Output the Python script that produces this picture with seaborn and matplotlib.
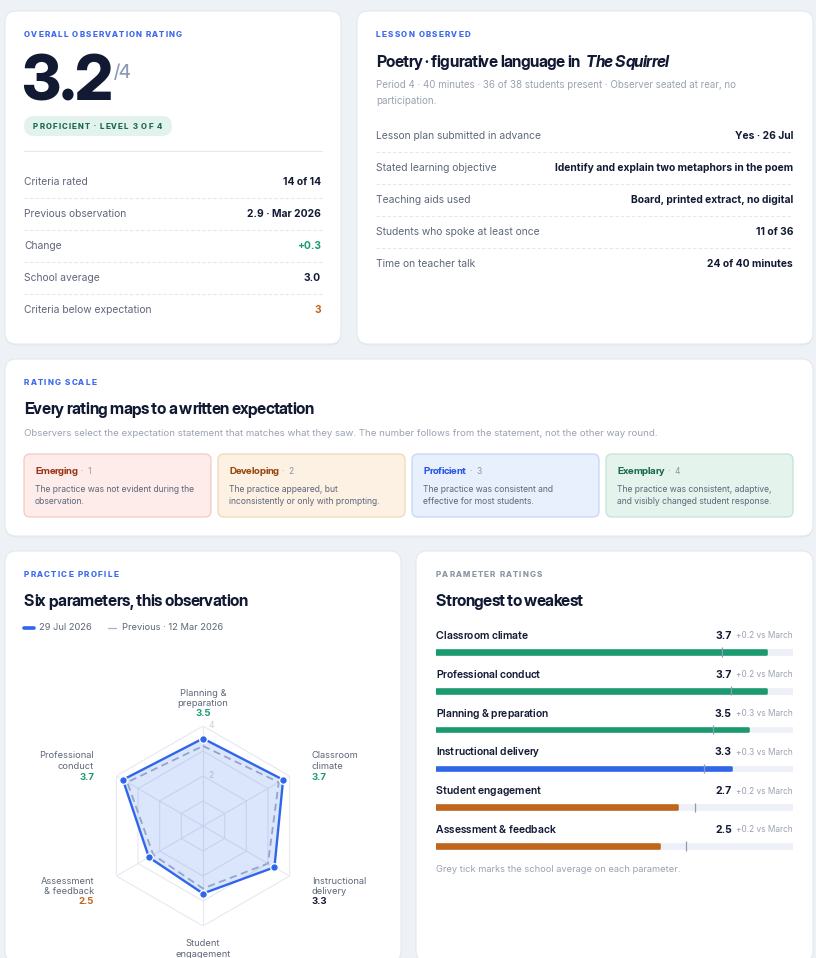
import matplotlib
matplotlib.use('Agg')
import matplotlib.pyplot as plt
from matplotlib.patches import FancyBboxPatch
from matplotlib.font_manager import FontProperties
import numpy as np
import pandas as pd
import seaborn as sns

# ---------------- data ----------------
overall_rating = "3.2"
overall_max = "/4"
overall_level = "PROFICIENT · LEVEL 3 OF 4"
summary_labels = ["Criteria rated", "Previous observation", "Change",
                  "School average", "Criteria below expectation"]
summary_values = ["14 of 14", "2.9 · Mar 2026", "+0.3", "3.0", "3"]
summary_kinds = ["plain", "plain", "good", "plain", "warn"]

lesson_title = "Poetry · figurative language in"
lesson_work = "The Squirrel"
lesson_sub = ["Period 4 · 40 minutes · 36 of 38 students present · Observer seated at rear, no",
              "participation."]
lesson_labels = ["Lesson plan submitted in advance", "Stated learning objective",
                 "Teaching aids used", "Students who spoke at least once", "Time on teacher talk"]
lesson_values = ["Yes · 26 Jul", "Identify and explain two metaphors in the poem",
                 "Board, printed extract, no digital", "11 of 36", "24 of 40 minutes"]

scale_names = ["Emerging", "Developing", "Proficient", "Exemplary"]
scale_levels = [1, 2, 3, 4]
scale_desc = [["The practice was not evident during the", "observation."],
              ["The practice appeared, but", "inconsistently or only with prompting."],
              ["The practice was consistent and", "effective for most students."],
              ["The practice was consistent, adaptive,", "and visibly changed student response."]]

radar_params = ["Planning &\npreparation", "Classroom\nclimate", "Instructional\ndelivery",
                "Student\nengagement", "Assessment\n& feedback", "Professional\nconduct"]
radar_current = [3.5, 3.7, 3.3, 2.7, 2.5, 3.7]
radar_previous = [3.2, 3.5, 3.0, 2.5, 2.3, 3.5]
radar_rings = [1, 2, 3, 4]
legend_current = "29 Jul 2026"
legend_previous = "Previous · 12 Mar 2026"

bar_params = ["Classroom climate", "Professional conduct", "Planning & preparation",
              "Instructional delivery", "Student engagement", "Assessment & feedback"]
bar_values = [3.7, 3.7, 3.5, 3.3, 2.7, 2.5]
bar_deltas = ["+0.2", "+0.2", "+0.3", "+0.3", "+0.2", "+0.2"]
school_avg = [3.2, 3.3, 3.1, 3.0, 2.9, 2.8]
scale_max = 4

# ---------------- style ----------------
BG = "#eef1f6"
NAVY = "#121a33"
GREY = "#5e6779"
LGREY = "#9aa2b1"
BLUE = "#2f66ea"
OVER = "#3d6aec"
GREEN = "#1b9a6f"
ORANGE = "#c0651c"
LINE = "#e3e7ee"

sns.set_theme(style="white")
plt.rcParams['font.family'] = ['Inter', 'DejaVu Sans']

W, H = 816, 958
fig = plt.figure(figsize=(W / 100, H / 100), dpi=100)
fig.patch.set_facecolor(BG)
bg = fig.add_axes([0, 0, 1, 1])
bg.set_xlim(0, W)
bg.set_ylim(H, 0)
bg.axis('off')
bg.set_zorder(0)
renderer = fig.canvas.get_renderer()


def fp(px, weight='normal', style='normal', family='Inter'):
    return FontProperties(family=[family, 'DejaVu Sans'], size=px * 0.72,
                          weight=weight, style=style)


def tw(s, prop):
    a = renderer.get_text_width_height_descent("H" + s + "H", prop, ismath=False)[0]
    b = renderer.get_text_width_height_descent("HH", prop, ismath=False)[0]
    return a - b


def txt(x, y, s, px, color=NAVY, weight='normal', ha='left', style='normal', va='center',
        family='Inter', target=None, spacing=None, fit=None):
    if fit is not None:
        px = px * fit / tw(s, fp(px, weight, style, family))
    prop = fp(px, weight, style, family)
    if target is None and spacing is None:
        bg.text(x, y, s, fontproperties=prop, color=color, ha=ha, va=va, zorder=4)
        return x + tw(s, prop)
    advs = [tw(ch, prop) for ch in s]
    nat = sum(advs)
    if spacing is None:
        spacing = (target - nat) / max(len(s) - 1, 1)
    total = nat + spacing * (len(s) - 1)
    if ha == 'right':
        x = x - total
    elif ha == 'center':
        x = x - total / 2
    for ch, a in zip(s, advs):
        if ch != ' ':
            bg.text(x, y, ch, fontproperties=prop, color=color, ha='left', va=va, zorder=4)
        x += a + spacing
    return x


def overline(x, y, s, color, target, px=8.0):
    txt(x, y, s, px, color, 'heavy', family='Inter Display', target=target)


def heading(x, y, s, target):
    txt(x, y, s, 16, NAVY, 'bold', family='Inter Display', target=target)


def card(x0, y0, x1, y1):
    bg.add_patch(FancyBboxPatch((x0, y0 + 1.5), x1 - x0, y1 - y0,
                                boxstyle="round,pad=0,rounding_size=11",
                                fc="#dde2ea", ec='none', alpha=0.7, zorder=1))
    bg.add_patch(FancyBboxPatch((x0, y0), x1 - x0, y1 - y0,
                                boxstyle="round,pad=0,rounding_size=11",
                                fc="white", ec="#e4e8ef", lw=0.8, zorder=2))


def hline(x0, x1, y, dashed=True, color=LINE):
    bg.plot([x0, x1], [y, y], color=color, lw=0.8,
            ls=(0, (3, 2)) if dashed else '-', zorder=3)


# ---------------- card 1: overall ----------------
card(5, 11, 341, 344)
overline(24, 35, "OVERALL OBSERVATION RATING", OVER, 158)
end = txt(21, 100, overall_rating, 62, NAVY, 'heavy', va='baseline',
          family='Inter Display', target=92)
txt(end + 1, 72.5, overall_max, 18, "#8b9ab3", 'medium', family='Inter Display')
bg.add_patch(FancyBboxPatch((24, 116), 148, 20, boxstyle="round,pad=0,rounding_size=10",
                            fc="#e2f3ed", ec='none', zorder=3))
txt(33, 126.5, overall_level, 7.8, "#1e6a4f", 'heavy', family='Inter Display', target=129)
hline(24, 322, 151, dashed=False)
kind_col = {"plain": NAVY, "good": GREEN, "warn": ORANGE}
for i, (lab, val, k) in enumerate(zip(summary_labels, summary_values, summary_kinds)):
    y = 182 + 32 * i
    txt(24, y, lab, 10.3, GREY)
    txt(321, y, val, 10.3, kind_col[k], 'bold', ha='right')
    if i < 4:
        hline(24, 322, y + 16)

# ---------------- card 2: lesson ----------------
card(357, 11, 813, 344)
overline(376, 35, "LESSON OBSERVED", OVER, 94)
heading(376, 62, lesson_title, 204)
txt(586, 62, lesson_work, 16, NAVY, 'bold', style='italic', family='Inter Display', target=83)
txt(376, 85, lesson_sub[0], 10, LGREY, fit=359)
txt(376, 101, lesson_sub[1], 9.8, LGREY)
for i, (lab, val) in enumerate(zip(lesson_labels, lesson_values)):
    y = 136 + 32 * i
    txt(376, y, lab, 10.3, GREY)
    txt(793, y, val, 10.3, NAVY, 'bold', ha='right')
    if i < 4:
        hline(376, 793, y + 16)

# ---------------- card 3: rating scale ----------------
card(5, 359, 813, 536)
overline(24, 383, "RATING SCALE", OVER, 72)
heading(24, 410, "Every rating maps to a written expectation", 290)
txt(24, 434, "Observers select the expectation statement that matches what they saw. "
             "The number follows from the statement, not the other way round.", 9.6, LGREY,
    fit=636)
box_fc = ["#fdecea", "#fdf1e4", "#e8effd", "#e4f4ed"]
box_ec = ["#f4c9c3", "#f2d7b6", "#c6d5f6", "#c2e4d4"]
box_tc = ["#9c3417", "#97460f", "#2557e3", "#17694f"]
for i in range(4):
    x0 = 24 + 194 * i
    bg.add_patch(FancyBboxPatch((x0, 454), 187, 63, boxstyle="round,pad=0,rounding_size=6",
                                fc=box_fc[i], ec=box_ec[i], lw=0.9, zorder=3))
    e = txt(x0 + 11, 471, scale_names[i], 10, box_tc[i], 'bold', family='Inter Display',
            spacing=-0.25)
    txt(e + 4, 471.5, "·  " + str(scale_levels[i]), 8.3, "#8c94a3")
    for j, line in enumerate(scale_desc[i]):
        txt(x0 + 11, 489 + 12.3 * j, line, 8.6, GREY)

# ---------------- card 4: radar ----------------
card(5, 551, 401, 962)
overline(24, 575, "PRACTICE PROFILE", OVER, 94)
heading(24, 602, "Six parameters, this observation", 224)
bg.plot([24, 34], [628, 628], color=BLUE, lw=2.6, solid_capstyle='round', zorder=4)
txt(39, 628, legend_current, 9.3, GREY)
bg.plot([108, 116], [628, 628], color="#a6b2c6", lw=0.9, zorder=4)
txt(122, 628, legend_previous, 9.3, GREY)

cx, cy, R = 203, 826, 100
rax = fig.add_axes([(cx - R) / W, 1 - (cy + R) / H, 2 * R / W, 2 * R / H], projection='polar')
rax.set_zorder(2)
rax.set_theta_zero_location('N')
rax.set_theta_direction(-1)
n = len(radar_params)
ang = np.linspace(0, 2 * np.pi, n, endpoint=False)
angc = np.append(ang, ang[0])
for r in radar_rings:
    rax.plot(angc, [r] * (n + 1), color="#e6e9f0", lw=0.8, zorder=1)
for a in ang:
    rax.plot([a, a], [0, radar_rings[-1]], color="#e6e9f0", lw=0.8, zorder=1)
cur = np.append(radar_current, radar_current[0])
prev = np.append(radar_previous, radar_previous[0])
rax.fill(angc, cur, color=BLUE, alpha=0.17, lw=0, zorder=2)
rax.plot(angc, prev, color="#93a5c9", lw=1.3, ls=(0, (4, 2.5)), zorder=3)
rax.plot(angc, cur, color=BLUE, lw=1.7, zorder=4)
rax.scatter(ang, radar_current, s=30, color=BLUE, edgecolors='white', linewidths=0.9,
            zorder=5, clip_on=False)
rax.set_ylim(0, scale_max)
rax.axis('off')
for r in (4, 2):
    txt(cx + 5, cy - R * r / scale_max, str(r), 8.6, "#c9ced8")


def vcol(v):
    if v >= 3.5:
        return GREEN
    if v >= 3.0:
        return NAVY
    return ORANGE


lab_pos = [(203, 693, 'center'), (312, 756, 'left'), (312, 881, 'left'),
           (203, 944, 'center'), (94, 881, 'right'), (94, 756, 'right')]
for (x, y, ha), lab, v in zip(lab_pos, radar_params, radar_current):
    for j, line in enumerate(lab.split("\n")):
        txt(x, y + 10.2 * j, line, 9.3, GREY, ha=ha)
    txt(x, y + 21, f"{v:.1f}", 9.6, vcol(v), 'bold', ha=ha)

# ---------------- card 5: bars ----------------
card(416, 551, 813, 962)
overline(436, 575, "PARAMETER RATINGS", "#8d95a4", 106)
heading(436, 602, "Strongest to weakest", 147)

row0, step = 652, 38.8
nb = len(bar_params)
top = row0 - step / 2
bax = fig.add_axes([436 / W, 1 - (top + step * nb) / H, 357 / W, step * nb / H])
bax.set_zorder(2)
bax.patch.set_alpha(0)
bh = 3.6 / step
cap = 2.6 * 0.72
bax.barh(np.arange(nb), [scale_max] * nb, height=bh, color="#edf0f6", edgecolor="#edf0f6",
         lw=cap, joinstyle='round', zorder=1)
bar_cols = [vcol(v) if vcol(v) != NAVY else BLUE for v in bar_values]
df = pd.DataFrame({"param": bar_params, "value": bar_values})
sns.barplot(data=df, x="value", y="param", hue="param", palette=bar_cols, legend=False,
            width=bh, ax=bax, orient='h', zorder=2, saturation=1)
for p, c in zip(bax.patches[nb:], bar_cols):
    p.set_edgecolor(c)
    p.set_linewidth(cap)
    p.set_joinstyle('round')
bax.vlines(school_avg, np.arange(nb) - 4.6 / step, np.arange(nb) + 4.6 / step,
           color="#8e9bb4", lw=0.9, zorder=5)
bax.set_xlim(0, scale_max)
bax.set_ylim(nb - 0.5, -0.5)
bax.axis('off')

dp = fp(8.3)
for i, (p, v, d) in enumerate(zip(bar_params, bar_values, bar_deltas)):
    y = row0 + step * i - 16
    txt(436, y, p, 10.7, NAVY, 'semibold', family='Inter Display', spacing=0.05)
    dtxt = d + " vs March"
    txt(793, y, dtxt, 8.3, "#9aa2b1", ha='right')
    wd = tw(dtxt, dp)
    txt(793 - wd - 4.5, y, f"{v:.1f}", 10.5, NAVY, 'bold', ha='right')

txt(436, 869, "Grey tick marks the school average on each parameter.", 9.3, LGREY)

fig.savefig("out.png", dpi=100, facecolor=BG)
